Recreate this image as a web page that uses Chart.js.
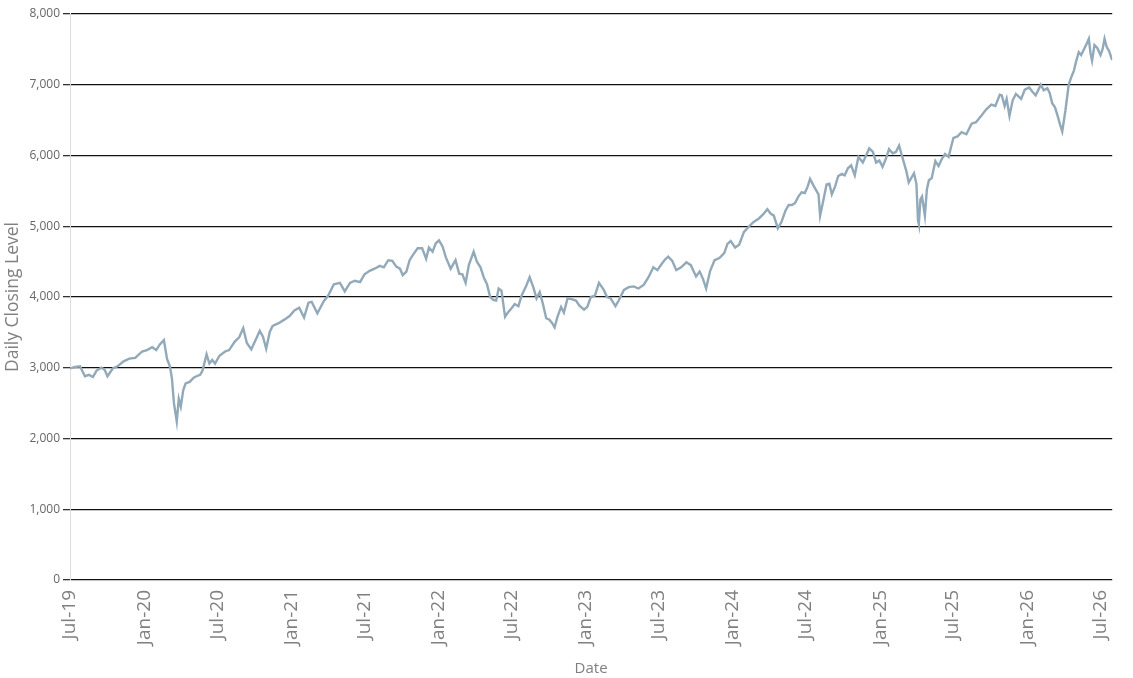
<!DOCTYPE html>
<html>
<head>
<meta charset="utf-8">
<script src="https://cdn.jsdelivr.net/npm/chart.js@4.4.1/dist/chart.umd.min.js"></script>
<style>
  html, body { margin: 0; padding: 0; background: #fff; }
  #wrap { width: 1133px; height: 678px; }
</style>
</head>
<body>
<div id="wrap"><canvas id="closeChart"></canvas></div>
<script>
// daily closing level (roughly weekly samples)
var dates = [
  '2019-07-01','2019-07-13','2019-07-26','2019-08-07','2019-08-17','2019-08-27','2019-09-05','2019-09-17','2019-09-25','2019-10-02',
  '2019-10-15','2019-10-27','2019-11-11','2019-11-25','2019-12-10','2019-12-27','2020-01-08','2020-01-21','2020-01-31','2020-02-09',
  '2020-02-19','2020-02-27','2020-03-05','2020-03-10','2020-03-15','2020-03-22','2020-03-27','2020-04-01','2020-04-07','2020-04-13',
  '2020-04-23','2020-05-03','2020-05-10','2020-05-19','2020-05-25','2020-06-04','2020-06-11','2020-06-18','2020-06-25','2020-07-06',
  '2020-07-20','2020-07-30','2020-08-13','2020-08-24','2020-09-03','2020-09-12','2020-09-23','2020-10-02','2020-10-14','2020-10-22',
  '2020-10-30','2020-11-08','2020-11-15','2020-11-30','2020-12-14','2020-12-27','2021-01-08','2021-01-20','2021-02-01','2021-02-12',
  '2021-02-20','2021-03-06','2021-03-22','2021-04-02','2021-04-16','2021-05-01','2021-05-13','2021-05-26','2021-06-07','2021-06-20',
  '2021-07-01','2021-07-14','2021-07-26','2021-08-08','2021-08-18','2021-08-29','2021-09-08','2021-09-18','2021-09-27','2021-10-04',
  '2021-10-13','2021-10-21','2021-10-31','2021-11-10','2021-11-21','2021-12-01','2021-12-08','2021-12-17','2021-12-25','2022-01-02',
  '2022-01-11','2022-01-19','2022-01-31','2022-02-12','2022-02-21','2022-03-01','2022-03-09','2022-03-17','2022-03-29','2022-04-06',
  '2022-04-15','2022-04-23','2022-05-01','2022-05-09','2022-05-17','2022-05-24','2022-05-30','2022-06-06','2022-06-15','2022-06-22',
  '2022-07-01','2022-07-09','2022-07-18','2022-07-26','2022-08-06','2022-08-15','2022-08-24','2022-09-01','2022-09-09','2022-09-17',
  '2022-09-25','2022-10-03','2022-10-10','2022-10-16','2022-10-23','2022-11-01','2022-11-08','2022-11-17','2022-11-27','2022-12-08',
  '2022-12-16','2022-12-28','2023-01-05','2023-01-14','2023-01-24','2023-02-03','2023-02-15','2023-02-23','2023-03-04','2023-03-16',
  '2023-03-24','2023-04-06','2023-04-18','2023-04-30','2023-05-12','2023-05-25','2023-06-06','2023-06-18','2023-06-28','2023-07-09',
  '2023-07-17','2023-07-25','2023-08-04','2023-08-14','2023-08-26','2023-09-08','2023-09-19','2023-10-02','2023-10-11','2023-10-19',
  '2023-10-27','2023-11-06','2023-11-17','2023-11-29','2023-12-11','2023-12-19','2023-12-27','2024-01-07','2024-01-17','2024-01-29',
  '2024-02-11','2024-02-22','2024-03-06','2024-03-17','2024-03-27','2024-04-04','2024-04-12','2024-04-22','2024-05-01','2024-05-11',
  '2024-05-19','2024-05-27','2024-06-04','2024-06-12','2024-06-20','2024-06-28','2024-07-05','2024-07-11','2024-07-21','2024-08-01',
  '2024-08-05','2024-08-12','2024-08-21','2024-08-28','2024-09-03','2024-09-11','2024-09-19','2024-09-28','2024-10-05','2024-10-13',
  '2024-10-21','2024-10-30','2024-11-08','2024-11-19','2024-11-27','2024-12-05','2024-12-14','2024-12-22','2024-12-30','2025-01-07',
  '2025-01-15','2025-01-23','2025-02-01','2025-02-09','2025-02-17','2025-02-24','2025-03-01','2025-03-07','2025-03-13','2025-03-21',
  '2025-03-26','2025-04-01','2025-04-05','2025-04-07','2025-04-11','2025-04-15','2025-04-22','2025-04-27','2025-05-02','2025-05-09',
  '2025-05-18','2025-05-26','2025-06-03','2025-06-11','2025-06-20','2025-06-26','2025-07-02','2025-07-12','2025-07-22','2025-08-03',
  '2025-08-16','2025-08-27','2025-09-09','2025-09-21','2025-10-04','2025-10-14','2025-10-25','2025-10-30','2025-11-06','2025-11-11',
  '2025-11-18','2025-11-26','2025-12-04','2025-12-17','2025-12-26','2026-01-06','2026-01-14','2026-01-22','2026-02-04','2026-02-11',
  '2026-02-20','2026-02-26','2026-03-04','2026-03-11','2026-03-17','2026-03-24','2026-03-29','2026-04-06','2026-04-14','2026-04-20',
  '2026-04-27','2026-05-02','2026-05-09','2026-05-15','2026-05-21','2026-05-27','2026-06-03','2026-06-07','2026-06-11','2026-06-17',
  '2026-06-24','2026-07-02','2026-07-07','2026-07-12','2026-07-17','2026-07-23','2026-07-31'
];
var closes = [
  2990,3010,3020,2880,2900,2870,2960,3000,2970,2880,
  2990,3020,3090,3130,3140,3230,3250,3290,3250,3330,
  3390,3120,3020,2850,2500,2240,2560,2450,2680,2780,
  2800,2860,2880,2900,2960,3190,3060,3110,3060,3170,
  3230,3250,3370,3430,3560,3350,3260,3370,3520,3440,
  3270,3510,3590,3630,3680,3730,3810,3850,3710,3920,
  3930,3770,3940,4020,4180,4200,4080,4200,4230,4210,
  4320,4370,4400,4440,4420,4520,4510,4430,4400,4310,
  4360,4520,4610,4690,4690,4540,4700,4640,4760,4800,
  4710,4560,4400,4520,4330,4320,4200,4450,4640,4500,
  4420,4280,4180,4000,3960,3950,4120,4090,3720,3780,
  3840,3900,3870,4020,4150,4280,4140,3980,4070,3900,
  3700,3680,3630,3570,3720,3860,3780,3980,3970,3950,
  3880,3820,3860,4000,4020,4200,4100,4000,3980,3870,
  3950,4100,4140,4150,4120,4170,4280,4420,4380,4470,
  4530,4570,4510,4380,4420,4490,4450,4290,4360,4260,
  4120,4370,4520,4550,4620,4750,4790,4700,4740,4920,
  5000,5060,5110,5170,5240,5180,5150,4970,5060,5220,
  5300,5300,5330,5420,5480,5470,5560,5670,5560,5450,
  5150,5340,5590,5600,5450,5560,5710,5740,5720,5820,
  5860,5720,5980,5900,6000,6100,6050,5900,5930,5840,
  5950,6090,6030,6050,6140,6000,5900,5780,5620,5700,
  5750,5600,5080,5030,5380,5420,5150,5520,5650,5680,
  5920,5850,5950,6020,5980,6120,6250,6270,6330,6300,
  6450,6470,6560,6650,6720,6700,6860,6850,6700,6800,
  6560,6780,6870,6800,6930,6960,6900,6850,7000,6920,
  6950,6880,6740,6680,6570,6430,6340,6640,7000,7100,
  7200,7320,7460,7420,7490,7560,7650,7450,7340,7560,
  7520,7420,7500,7650,7540,7480,7350
];
var tickDates = ['2019-07-01','2020-01-01','2020-07-01','2021-01-01','2021-07-01','2022-01-01','2022-07-01','2023-01-01',
  '2023-07-01','2024-01-01','2024-07-01','2025-01-01','2025-07-01','2026-01-01','2026-07-01'];
var tickLabels = ['Jul-19','Jan-20','Jul-20','Jan-21','Jul-21','Jan-22','Jul-22','Jan-23',
  'Jul-23','Jan-24','Jul-24','Jan-25','Jul-25','Jan-26','Jul-26'];

// days since the first date, so a plain linear axis can carry the dates
var t0 = Date.UTC(2019, 6, 1);
function dayOf(s) {
  var p = s.split('-');
  return (Date.UTC(+p[0], +p[1] - 1, +p[2]) - t0) / 86400000;
}

var points = dates.map(function (d, i) { return { x: dayOf(d), y: closes[i] }; });
var tickDays = tickDates.map(dayOf);

Chart.defaults.font.family = "'Open Sans', sans-serif";
Chart.defaults.color = '#666';

new Chart(document.getElementById('closeChart').getContext('2d'), {
  type: 'line',
  data: {
    datasets: [{
      data: points,
      borderColor: '#91a9b9',
      borderWidth: 2.4,
      pointRadius: 0,
      tension: 0,
      fill: false
    }]
  },
  options: {
    responsive: true,
    maintainAspectRatio: false,
    animation: false,
    layout: { padding: { top: 14, right: 8, bottom: 0, left: 0 } },
    plugins: { legend: { display: false }, tooltip: { enabled: false } },
    scales: {
      x: {
        type: 'linear',
        min: 0,
        max: dayOf(dates[dates.length - 1]),
        afterFit: function (s) { s.height = 98; },
        afterBuildTicks: function (s) {
          s.ticks = tickDays.map(function (v) { return { value: v }; });
        },
        ticks: {
          autoSkip: false,
          minRotation: 90,
          maxRotation: 90,
          padding: 10,
          font: { size: 19 },
          color: '#808080',
          callback: function (v, i) { return tickLabels[i]; }
        },
        grid: { display: false, drawTicks: false },
        border: { display: false },
        title: { display: true, text: 'Date', font: { size: 15 }, color: '#808080', padding: { top: 0, bottom: 0 } }
      },
      y: {
        min: 0,
        max: 8000,
        afterFit: function (s) { s.width = 70; },
        ticks: {
          stepSize: 1000,
          padding: 3,
          font: { size: 12 },
          color: '#666',
          callback: function (v) { return v.toLocaleString('en-US'); }
        },
        grid: { color: '#111', lineWidth: 1.3, tickLength: 7, tickColor: '#333' },
        border: { display: true, color: '#ddd', width: 1 },
        title: { display: true, text: 'Daily Closing Level', font: { size: 17.5 }, color: '#808080', padding: { top: 3, bottom: 0 } }
      }
    }
  }
});
</script>
</body>
</html>
